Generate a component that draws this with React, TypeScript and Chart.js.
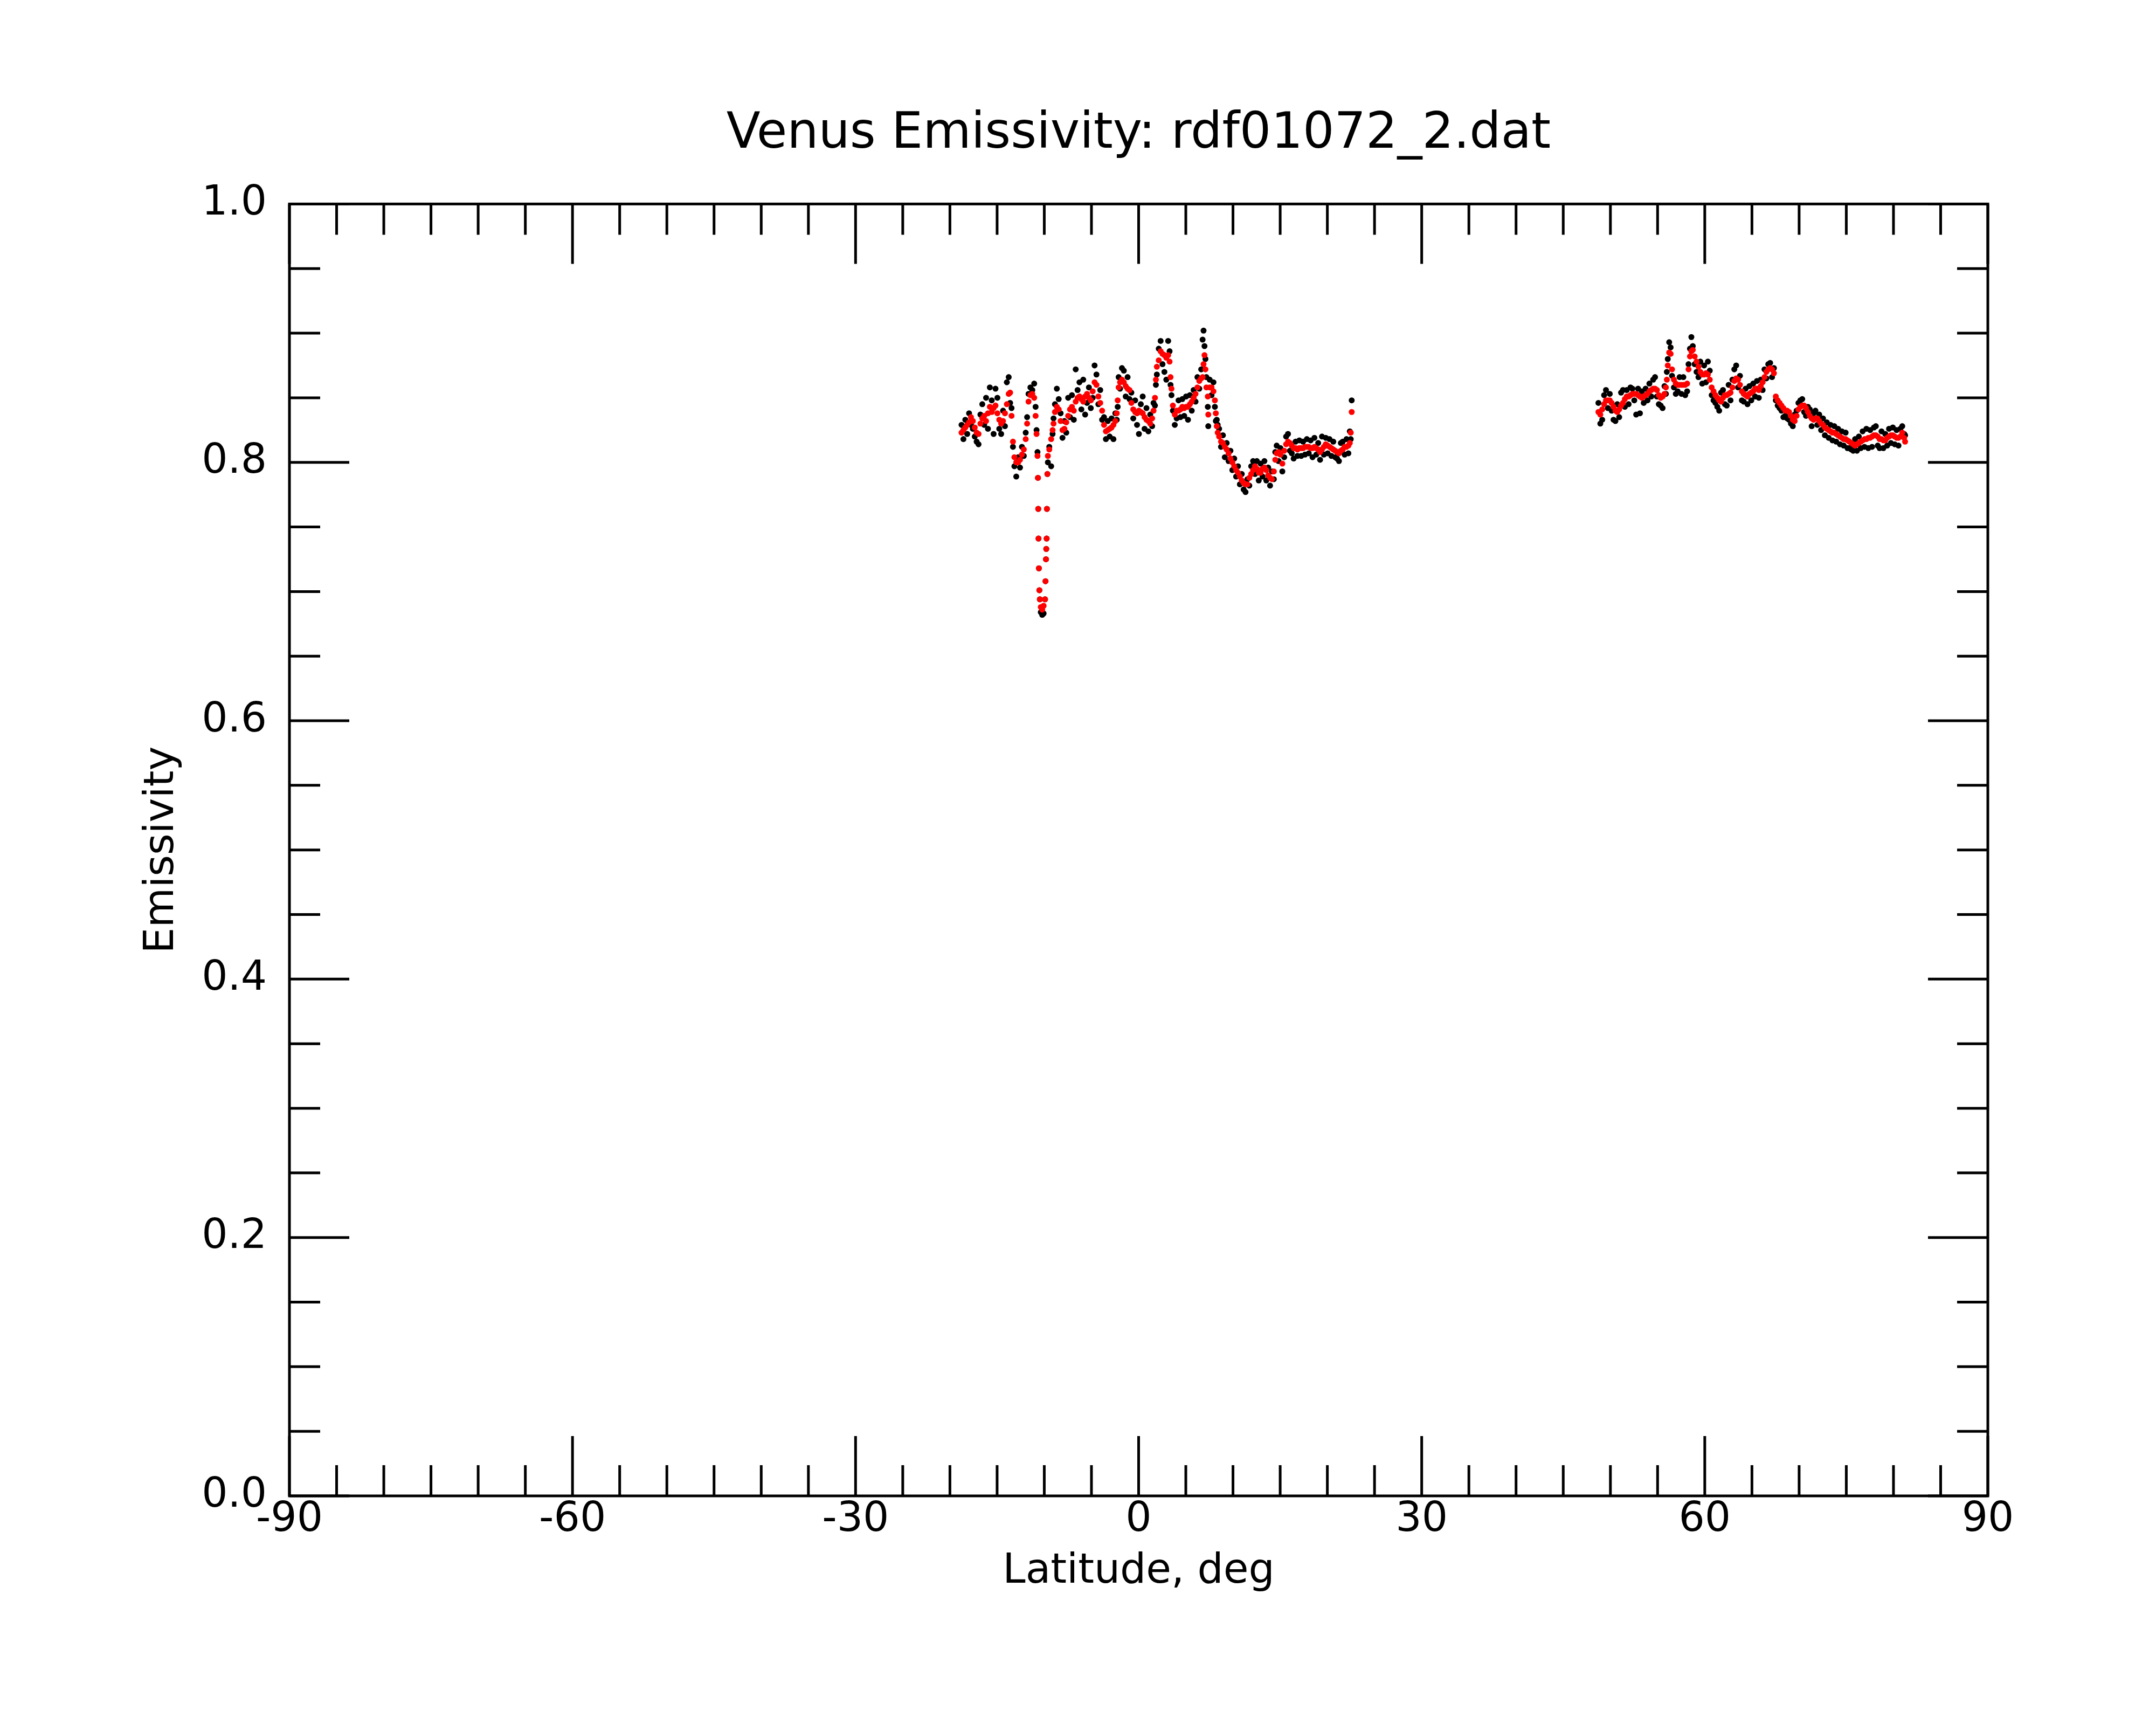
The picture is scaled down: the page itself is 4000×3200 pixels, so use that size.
import { useEffect, useRef } from 'react';
import { Chart, registerables } from 'chart.js';

Chart.register(...registerables);

// latitude (deg) and emissivity, southern/equatorial pass
const southLat = [
  -18.77, -18.57, -18.37, -18.17, -17.97, -17.77, -17.57, -17.37, -17.17, -16.97,
  -16.77, -16.57, -16.37, -16.17, -15.97, -15.77, -15.57, -15.37, -15.17, -14.97,
  -14.77, -14.57, -14.37, -14.17, -13.97, -13.77, -13.62, -13.47, -13.32, -13.17,
  -12.97, -12.77, -12.57, -12.37, -12.17, -11.97, -11.82, -11.67, -11.47, -11.27,
  -11.07, -10.92, -10.82, -10.72, -10.67, -10.64, -10.61, -10.57, -10.52, -10.47,
  -10.37, -10.22, -10.07, -9.92, -9.87, -9.82, -9.79, -9.75, -9.72, -9.67,
  -9.62, -9.47, -9.27, -9.12, -9.02, -8.87, -8.67, -8.47, -8.27, -8.07,
  -7.87, -7.67, -7.47, -7.27, -7.07, -6.87, -6.67, -6.47, -6.27, -6.07,
  -5.87, -5.67, -5.47, -5.27, -5.07, -4.87, -4.67, -4.47, -4.27, -4.07,
  -3.87, -3.67, -3.47, -3.27, -3.07, -2.87, -2.67, -2.47, -2.32, -2.22,
  -2.12, -1.97, -1.77, -1.57, -1.37, -1.17, -0.97, -0.77, -0.57, -0.37,
  -0.17, 0.03, 0.23, 0.43, 0.63, 0.83, 1.03, 1.23, 1.43, 1.58,
  1.73, 1.83, 1.93, 2.13, 2.33, 2.53, 2.73, 2.93, 3.13, 3.28,
  3.38, 3.48, 3.63, 3.83, 4.03, 4.23, 4.43, 4.63, 4.83, 5.03,
  5.23, 5.43, 5.63, 5.83, 6.03, 6.23, 6.43, 6.63, 6.78, 6.88,
  6.98, 7.08, 7.18, 7.33, 7.38, 7.53, 7.73, 7.93, 8.08, 8.18,
  8.28, 8.38, 8.53, 8.73, 8.93, 9.13, 9.33, 9.53, 9.73, 9.93,
  10.13, 10.33, 10.53, 10.73, 10.93, 11.13, 11.33, 11.53, 11.73, 11.93,
  12.13, 12.33, 12.53, 12.73, 12.93, 13.13, 13.33, 13.53, 13.73, 13.93,
  14.13, 14.33, 14.48, 14.63, 14.83, 15.03, 15.23, 15.43, 15.63, 15.83,
  16.03, 16.23, 16.43, 16.63, 16.83, 17.03, 17.23, 17.43, 17.63, 17.83,
  18.03, 18.23, 18.43, 18.63, 18.83, 19.03, 19.23, 19.43, 19.63, 19.83,
  20.03, 20.23, 20.43, 20.63, 20.83, 21.03, 21.23, 21.43, 21.63, 21.83,
  22.03, 22.23, 22.38, 22.48, 22.58,
];

// smoothed (red)
const southSmooth = [
  0.823, 0.825, 0.827, 0.829, 0.831, 0.835, 0.832, 0.827, 0.823, 0.822,
  0.830, 0.834, 0.836, 0.832, 0.838, 0.843, 0.839, 0.842, 0.844, 0.838,
  0.833, 0.830, 0.832, 0.838, 0.845, 0.853, 0.854, 0.836, 0.816, 0.804,
  0.800, 0.800, 0.802, 0.806, 0.810, 0.818, 0.830, 0.847, 0.852, 0.853,
  0.850, 0.836, 0.822, 0.805, 0.788, 0.764, 0.741, 0.718, 0.701, 0.694,
  0.688, 0.686, 0.689, 0.694, 0.708, 0.725, 0.733, 0.741, 0.764, 0.791,
  0.805, 0.810, 0.818, 0.825, 0.830, 0.839, 0.843, 0.841, 0.832, 0.825,
  0.826, 0.831, 0.836, 0.841, 0.843, 0.840, 0.847, 0.850, 0.851, 0.849,
  0.847, 0.851, 0.853, 0.850, 0.848, 0.855, 0.862, 0.860, 0.851, 0.846,
  0.840, 0.829, 0.824, 0.825, 0.826, 0.827, 0.829, 0.832, 0.838, 0.848,
  0.858, 0.862, 0.864, 0.862, 0.859, 0.857, 0.856, 0.846, 0.841, 0.839,
  0.838, 0.840, 0.839, 0.838, 0.835, 0.833, 0.832, 0.830, 0.834, 0.840,
  0.850, 0.864, 0.874, 0.879, 0.886, 0.884, 0.883, 0.881, 0.883, 0.878,
  0.866, 0.857, 0.844, 0.837, 0.840, 0.840, 0.841, 0.843, 0.842, 0.843,
  0.843, 0.845, 0.847, 0.850, 0.853, 0.858, 0.863, 0.865, 0.866, 0.876,
  0.883, 0.872, 0.858, 0.851, 0.837, 0.858, 0.858, 0.855, 0.848, 0.838,
  0.828, 0.823, 0.820, 0.816, 0.815, 0.812, 0.810, 0.807, 0.803, 0.800,
  0.797, 0.794, 0.792, 0.789, 0.786, 0.784, 0.783, 0.783, 0.788, 0.791,
  0.794, 0.797, 0.795, 0.792, 0.792, 0.795, 0.796, 0.794, 0.790, 0.788,
  0.787, 0.793, 0.802, 0.807, 0.808, 0.806, 0.799, 0.809, 0.814, 0.816,
  0.815, 0.813, 0.811, 0.811, 0.810, 0.811, 0.811, 0.811, 0.812, 0.812,
  0.812, 0.811, 0.811, 0.812, 0.811, 0.810, 0.808, 0.810, 0.812, 0.814,
  0.813, 0.812, 0.811, 0.810, 0.809, 0.808, 0.807, 0.809, 0.810, 0.812,
  0.812, 0.813, 0.815, 0.823, 0.839,
];

// raw (black)
const southRaw = [
  0.829, 0.818, 0.833, 0.822, 0.838, 0.829, 0.826, 0.820, 0.816, 0.814,
  0.837, 0.845, 0.829, 0.850, 0.826, 0.858, 0.848, 0.822, 0.857, 0.850,
  0.826, 0.822, 0.840, 0.828, 0.862, 0.866, 0.846, 0.842, 0.812, 0.797,
  0.789, 0.804, 0.796, 0.812, 0.805, 0.823, 0.835, 0.853, 0.858, 0.856,
  0.861, 0.843, 0.825, 0.808, 0.788, 0.764, 0.741, 0.718, 0.701, 0.694,
  0.684, 0.682, 0.683, 0.694, 0.708, 0.725, 0.733, 0.741, 0.764, 0.791,
  0.800, 0.812, 0.797, 0.822, 0.834, 0.845, 0.857, 0.849, 0.838, 0.819,
  0.832, 0.823, 0.850, 0.835, 0.852, 0.833, 0.872, 0.856, 0.862, 0.841,
  0.864, 0.837, 0.846, 0.858, 0.842, 0.850, 0.875, 0.868, 0.845, 0.856,
  0.833, 0.835, 0.818, 0.832, 0.820, 0.834, 0.818, 0.838, 0.833, 0.843,
  0.866, 0.857, 0.873, 0.871, 0.851, 0.866, 0.849, 0.854, 0.834, 0.848,
  0.829, 0.822, 0.845, 0.851, 0.826, 0.842, 0.824, 0.837, 0.828, 0.846,
  0.844, 0.860, 0.868, 0.888, 0.894, 0.876, 0.870, 0.864, 0.894, 0.886,
  0.860, 0.852, 0.840, 0.829, 0.834, 0.848, 0.835, 0.849, 0.836, 0.851,
  0.833, 0.852, 0.840, 0.856, 0.847, 0.866, 0.857, 0.872, 0.895, 0.902,
  0.890, 0.880, 0.866, 0.843, 0.828, 0.864, 0.852, 0.862, 0.843, 0.832,
  0.833, 0.829, 0.826, 0.812, 0.821, 0.804, 0.815, 0.801, 0.809, 0.794,
  0.803, 0.789, 0.797, 0.783, 0.791, 0.779, 0.777, 0.787, 0.782, 0.797,
  0.801, 0.791, 0.801, 0.786, 0.799, 0.789, 0.801, 0.786, 0.796, 0.782,
  0.793, 0.787, 0.808, 0.813, 0.801, 0.811, 0.793, 0.804, 0.820, 0.822,
  0.809, 0.807, 0.803, 0.816, 0.805, 0.817, 0.805, 0.816, 0.806, 0.818,
  0.807, 0.817, 0.804, 0.819, 0.806, 0.815, 0.802, 0.820, 0.806, 0.819,
  0.807, 0.818, 0.805, 0.816, 0.804, 0.803, 0.801, 0.815, 0.816, 0.806,
  0.818, 0.807, 0.824, 0.818, 0.848,
];

// northern pass
const northLat = [
  48.73, 48.93, 49.13, 49.33, 49.53, 49.73, 49.93, 50.13, 50.33, 50.53,
  50.73, 50.93, 51.13, 51.33, 51.53, 51.73, 51.93, 52.13, 52.33, 52.53,
  52.73, 52.93, 53.13, 53.33, 53.53, 53.73, 53.93, 54.13, 54.33, 54.53,
  54.73, 54.93, 55.13, 55.33, 55.53, 55.73, 55.88, 55.98, 56.08, 56.23,
  56.38, 56.53, 56.73, 56.93, 57.13, 57.33, 57.53, 57.73, 57.93, 58.13,
  58.28, 58.43, 58.58, 58.73, 58.93, 59.13, 59.33, 59.53, 59.73, 59.93,
  60.13, 60.33, 60.53, 60.73, 60.93, 61.13, 61.33, 61.53, 61.73, 61.93,
  62.13, 62.33, 62.53, 62.73, 62.93, 63.13, 63.33, 63.53, 63.73, 63.93,
  64.13, 64.33, 64.53, 64.73, 64.93, 65.13, 65.33, 65.53, 65.73, 65.93,
  66.13, 66.33, 66.53, 66.73, 66.93, 67.13, 67.33, 67.53, 67.73, 67.93,
  68.13, 68.33, 68.53, 68.73, 68.93, 69.13, 69.33, 69.53, 69.73, 69.93,
  70.13, 70.33, 70.53, 70.73, 70.93, 71.13, 71.33, 71.53, 71.73, 71.93,
  72.13, 72.33, 72.53, 72.73, 72.93, 73.13, 73.33, 73.53, 73.73, 73.93,
  74.13, 74.33, 74.53, 74.73, 74.93, 75.13, 75.33, 75.53, 75.73, 75.93,
  76.13, 76.33, 76.53, 76.73, 76.93, 77.13, 77.33, 77.53, 77.73, 77.93,
  78.13, 78.33, 78.53, 78.73, 78.93, 79.13, 79.33, 79.53, 79.73, 79.93,
  80.13, 80.33, 80.53, 80.73, 80.93, 81.13, 81.23,
];

const northSmooth = [
  0.839, 0.837, 0.841, 0.845, 0.848, 0.848, 0.848, 0.846, 0.843, 0.840,
  0.839, 0.841, 0.844, 0.846, 0.849, 0.851, 0.851, 0.852, 0.853, 0.853,
  0.853, 0.852, 0.851, 0.850, 0.851, 0.852, 0.853, 0.855, 0.856, 0.857,
  0.857, 0.856, 0.852, 0.850, 0.851, 0.853, 0.858, 0.864, 0.875, 0.885,
  0.884, 0.872, 0.864, 0.861, 0.860, 0.860, 0.860, 0.860, 0.860, 0.861,
  0.872, 0.882, 0.886, 0.887, 0.882, 0.878, 0.874, 0.870, 0.868, 0.868,
  0.869, 0.868, 0.864, 0.858, 0.855, 0.852, 0.850, 0.848, 0.847, 0.850,
  0.852, 0.852, 0.853, 0.854, 0.858, 0.863, 0.865, 0.864, 0.860, 0.855,
  0.853, 0.852, 0.851, 0.853, 0.854, 0.855, 0.857, 0.857, 0.856, 0.859,
  0.862, 0.866, 0.870, 0.872, 0.873, 0.872, 0.869, 0.851, 0.848, 0.846,
  0.844, 0.842, 0.840, 0.840, 0.839, 0.836, 0.833, 0.832, 0.836, 0.841,
  0.843, 0.844, 0.844, 0.842, 0.839, 0.836, 0.834, 0.833, 0.834, 0.834,
  0.832, 0.830, 0.829, 0.827, 0.826, 0.825, 0.824, 0.823, 0.823, 0.822,
  0.821, 0.820, 0.819, 0.818, 0.818, 0.817, 0.816, 0.815, 0.814, 0.813,
  0.814, 0.815, 0.816, 0.817, 0.818, 0.818, 0.819, 0.819, 0.820, 0.821,
  0.821, 0.820, 0.818, 0.818, 0.817, 0.817, 0.819, 0.820, 0.821, 0.821,
  0.820, 0.819, 0.819, 0.820, 0.823, 0.819, 0.816,
];

const northRaw = [
  0.846, 0.830, 0.833, 0.852, 0.856, 0.842, 0.853, 0.840, 0.833, 0.832,
  0.845, 0.835, 0.854, 0.856, 0.843, 0.856, 0.845, 0.858, 0.857, 0.848,
  0.837, 0.857, 0.838, 0.855, 0.846, 0.857, 0.848, 0.861, 0.851, 0.864,
  0.866, 0.851, 0.845, 0.844, 0.842, 0.859, 0.853, 0.870, 0.880, 0.893,
  0.889, 0.867, 0.858, 0.853, 0.855, 0.866, 0.853, 0.866, 0.852, 0.855,
  0.876, 0.888, 0.897, 0.890, 0.876, 0.870, 0.866, 0.878, 0.861, 0.875,
  0.862, 0.878, 0.871, 0.852, 0.848, 0.846, 0.843, 0.840, 0.854, 0.856,
  0.845, 0.844, 0.860, 0.848, 0.864, 0.872, 0.875, 0.858, 0.867, 0.848,
  0.847, 0.857, 0.845, 0.859, 0.848, 0.861, 0.851, 0.863, 0.850, 0.864,
  0.856, 0.872, 0.865, 0.876, 0.877, 0.866, 0.873, 0.848, 0.844, 0.842,
  0.840, 0.835, 0.836, 0.834, 0.833, 0.830, 0.828, 0.837, 0.840, 0.846,
  0.848, 0.849, 0.839, 0.836, 0.843, 0.841, 0.828, 0.838, 0.840, 0.829,
  0.837, 0.825, 0.834, 0.821, 0.831, 0.819, 0.829, 0.817, 0.828, 0.816,
  0.826, 0.814, 0.824, 0.813, 0.823, 0.811, 0.811, 0.810, 0.809, 0.818,
  0.809, 0.820, 0.811, 0.824, 0.812, 0.826, 0.811, 0.825, 0.812, 0.827,
  0.828, 0.813, 0.811, 0.824, 0.811, 0.822, 0.813, 0.826, 0.815, 0.827,
  0.814, 0.825, 0.813, 0.826, 0.828, 0.822, 0.821,
];

const FONT = 'DejaVu Sans';

const toPoints = (lat: number[], val: number[]) => lat.map((x, i) => ({ x, y: val[i] }));

// matplotlib-like frame with inward ticks on all four sides
const frameTicks = {
  id: 'frameTicks',
  afterDraw(chart: any) {
    const { ctx, chartArea, scales } = chart;
    const { left, right, top, bottom } = chartArea;
    ctx.save();
    ctx.strokeStyle = '#000';
    ctx.lineWidth = 5;
    ctx.beginPath();
    for (let v = -90; v <= 90; v += 5) {
      const px = scales.x.getPixelForValue(v);
      const len = v % 30 === 0 ? 111 : 57;
      ctx.moveTo(px, top);
      ctx.lineTo(px, top + len);
      ctx.moveTo(px, bottom);
      ctx.lineTo(px, bottom - len);
    }
    for (let i = 0; i <= 20; i++) {
      const py = scales.y.getPixelForValue(i * 0.05);
      const len = i % 4 === 0 ? 111 : 57;
      ctx.moveTo(left, py);
      ctx.lineTo(left + len, py);
      ctx.moveTo(right, py);
      ctx.lineTo(right - len, py);
    }
    ctx.stroke();
    ctx.strokeRect(left, top, right - left, bottom - top);
    ctx.restore();
  },
};

const App = () => {
  const chartRef = useRef<HTMLCanvasElement | null>(null);

  useEffect(() => {
    document.body.style.margin = '0';
    if (!chartRef.current) return;

    const myChart = new Chart(chartRef.current, {
      type: 'scatter',
      data: {
        datasets: [
          {
            label: 'smoothed',
            data: [...toPoints(southLat, southSmooth), ...toPoints(northLat, northSmooth)],
            backgroundColor: '#ff0000',
            borderWidth: 0,
            pointRadius: 5.5,
            order: 0,
          },
          {
            label: 'raw',
            data: [...toPoints(southLat, southRaw), ...toPoints(northLat, northRaw)],
            backgroundColor: '#000000',
            borderWidth: 0,
            pointRadius: 5.5,
            order: 1,
          },
        ],
      },
      plugins: [frameTicks],
      options: {
        animation: false,
        responsive: false,
        devicePixelRatio: 1,
        layout: { padding: { left: 0, right: 312, top: 0, bottom: 0 } },
        scales: {
          x: {
            type: 'linear',
            min: -90,
            max: 90,
            grid: { display: false, drawTicks: false },
            border: { display: false },
            ticks: {
              stepSize: 30,
              padding: 0,
              maxRotation: 0,
              autoSkip: false,
              color: '#000',
              font: { family: FONT, size: 76 },
              callback: (v: any) => String(v),
            },
            title: {
              display: true,
              text: 'Latitude, deg',
              color: '#000',
              font: { family: FONT, size: 76 },
              padding: { top: 0, bottom: 238 },
            },
            afterFit: (scale: any) => {
              scale.height = 425;
            },
          },
          y: {
            min: 0,
            max: 1,
            grid: { display: false, drawTicks: false },
            border: { display: false },
            ticks: {
              stepSize: 0.2,
              padding: 42,
              autoSkip: false,
              color: '#000',
              font: { family: FONT, size: 76 },
              callback: (v: any) => Number(v).toFixed(1),
            },
            title: {
              display: true,
              text: 'Emissivity',
              color: '#000',
              font: { family: FONT, size: 76 },
              padding: { top: 256, bottom: 0 },
            },
            afterFit: (scale: any) => {
              scale.width = 537;
            },
          },
        },
        plugins: {
          legend: { display: false },
          tooltip: { enabled: false },
          title: {
            display: true,
            fullSize: false,
            text: 'Venus Emissivity: rdf01072_2.dat',
            color: '#000',
            font: { family: FONT, size: 92, weight: 'normal' },
            padding: { top: 195, bottom: 73 },
          },
        },
      },
    });

    return () => myChart.destroy();
  }, []);

  return (
    <canvas
      ref={chartRef}
      width={4000}
      height={3200}
      style={{ display: 'block', width: '4000px', height: '3200px' }}
    />
  );
};

export default App;
